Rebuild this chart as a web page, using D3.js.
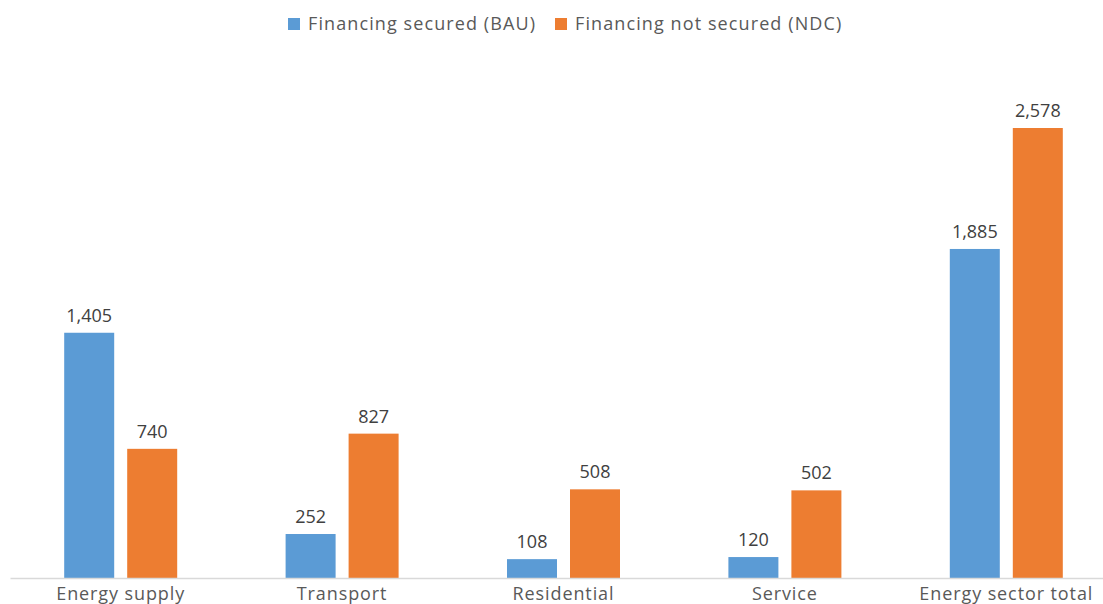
<!DOCTYPE html>
<html>
<head>
<meta charset="utf-8">
<script src="https://cdn.jsdelivr.net/npm/d3@7"></script>
<style>
  body { margin: 0; background: #fff; overflow: hidden; }
  svg { display: block; font-family: "Open Sans", Lato, sans-serif; }
</style>
</head>
<body>
<svg id="chart"></svg>
<script>
// 数据
const categories = ["Energy supply", "Transport", "Residential", "Service", "Energy sector total"];
const seriesNames = ["Financing secured (BAU)", "Financing not secured (NDC)"];
const bauValues = [1405, 252, 108, 120, 1885];
const ndcValues = [740, 827, 508, 502, 2578];
const colors = ["#5B9BD5", "#ED7D31"];

const width = 1103;
const height = 604;
const baseY = 578;

const svg = d3.select("#chart")
  .attr("width", width)
  .attr("height", height);

// 类别比例尺（右侧超出画布，与原图一致）
const x0 = d3.scaleBand()
  .domain(categories)
  .range([10, 1117])
  .paddingInner(0)
  .paddingOuter(0);

const x1 = d3.scaleBand()
  .domain(seriesNames)
  .range([0, 113])
  .paddingInner(13 / 63);

const y = d3.scaleLinear()
  .domain([0, 2578])
  .range([baseY, 128]);

const rows = categories.map((c, i) => ({
  category: c,
  values: [bauValues[i], ndcValues[i]]
}));

const groups = svg.selectAll("g.cat")
  .data(rows)
  .enter()
  .append("g")
  .attr("class", "cat")
  .attr("transform", d => `translate(${x0(d.category) + x0.bandwidth() / 2 - 56.5},0)`);

groups.selectAll("rect")
  .data(d => d.values.map((v, j) => ({ name: seriesNames[j], value: v, idx: j })))
  .enter()
  .append("rect")
  .attr("x", d => x1(d.name))
  .attr("y", d => y(d.value))
  .attr("width", x1.bandwidth())
  .attr("height", d => baseY - y(d.value))
  .attr("fill", d => colors[d.idx]);

// 数值标签
groups.selectAll("text.val")
  .data(d => d.values.map((v, j) => ({ name: seriesNames[j], value: v })))
  .enter()
  .append("text")
  .attr("class", "val")
  .attr("x", d => x1(d.name) + x1.bandwidth() / 2)
  .attr("y", d => y(d.value) - 11)
  .attr("text-anchor", "middle")
  .attr("font-size", 18)
  .attr("fill", "#404040")
  .text(d => d3.format(",")(d.value));

// 坐标轴
const axis = svg.append("g")
  .attr("transform", `translate(0,${baseY})`)
  .call(d3.axisBottom(x0).tickSize(0).tickPadding(9));
axis.select(".domain").attr("stroke", "#D9D9D9").attr("stroke-width", 1.3);
axis.selectAll("text")
  .attr("font-size", 18)
  .attr("letter-spacing", 0.9)
  .attr("font-family", "'Open Sans', Lato, sans-serif")
  .attr("fill", "#595959");

// 图例
const legendItems = [
  { name: seriesNames[0], color: colors[0], x: 288 },
  { name: seriesNames[1], color: colors[1], x: 555 }
];
const legend = svg.append("g");
legendItems.forEach(item => {
  legend.append("rect")
    .attr("x", item.x)
    .attr("y", 18)
    .attr("width", 12)
    .attr("height", 12)
    .attr("fill", item.color);
  legend.append("text")
    .attr("x", item.x + 20)
    .attr("y", 30)
    .attr("font-size", 18)
    .attr("letter-spacing", 1.1)
    .attr("fill", "#595959")
    .text(item.name);
});
</script>
</body>
</html>
